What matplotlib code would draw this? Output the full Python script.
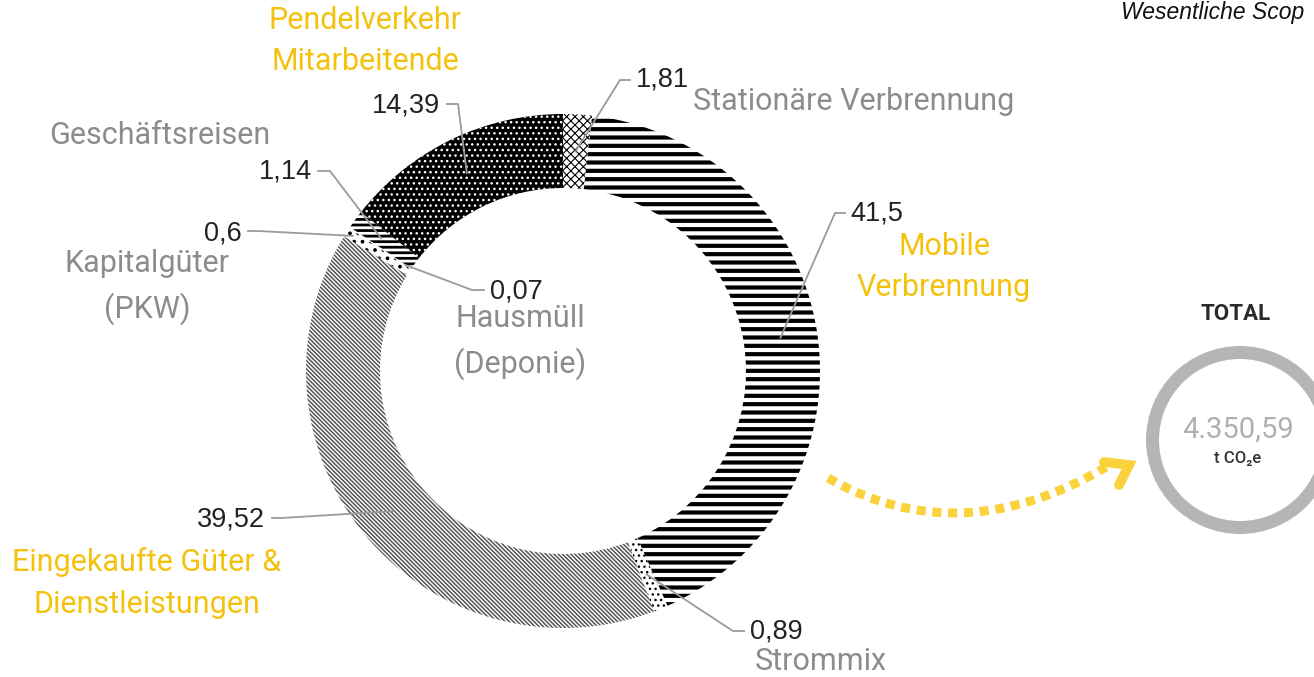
import numpy as np
import matplotlib.pyplot as plt

# data (clockwise from 12 o'clock)
values = [1.81, 41.5, 0.89, 39.52, 0.6, 0.07, 1.14, 14.39]
value_labels = ['1,81', '41,5', '0,89', '39,52', '0,6', '0,07', '1,14', '14,39']
categories = ['Stationäre Verbrennung', 'Mobile\nVerbrennung', 'Strommix',
              'Eingekaufte Güter &\nDienstleistungen', 'Kapitalgüter\n(PKW)',
              'Hausmüll\n(Deponie)', 'Geschäftsreisen', 'Pendelverkehr\nMitarbeitende']
highlight = [False, True, False, True, False, False, False, True]
total_value = '4.350,59'
total_unit = 't CO₂e'

# styles
faces = ['white', 'white', 'white', 'white', 'white', 'white', 'white', 'black']
hatches = ['xxxx', '--', '...', '\\' * 8, '..', '', '---', '...']
hatch_colors = ['black', 'black', 'black', '#555555', 'black', 'black', 'black', 'white']
hatch_lws = [0.8, 3.0, 1.0, 1.1, 1.5, 1.0, 2.0, 1.0]

yellow = '#F4C20D'
grey = '#8c8c8c'
line_grey = '#9a9a9a'

W, H = 1314, 677
def Y(y):
    return H - y

fig = plt.figure(figsize=(W / 100, H / 100), dpi=100)
ax = fig.add_axes([0, 0, 1, 1])

cx, cy, R = 563, Y(371), 257
wedges, _ = ax.pie(values, startangle=90, counterclock=False, radius=R, center=(cx, cy),
                   colors=faces, hatch=hatches, wedgeprops=dict(width=74, linewidth=0))
for w, ec, lw in zip(wedges, hatch_colors, hatch_lws):
    w.set_edgecolor(ec)
    if hasattr(w, 'set_hatch_linewidth'):
        w.set_hatch_linewidth(lw)

# mid angles of the wedges
vals = np.array(values)
frac = (np.cumsum(vals) - vals / 2) / vals.sum()
theta = np.deg2rad(90 - 360 * frac)

# number label position, alignment, elbow, leader end radius, category pos, alignment
num_pos = [(636, 80), (850, 213), (750, 632), (265, 519), (242, 233), (490, 292), (312, 172), (440, 106)]
num_ha = ['left', 'left', 'left', 'right', 'right', 'left', 'right', 'right']
elbow = [[(630, 80), (620, 80)], [(845, 213), (835, 213)], [(744, 631), (733, 631)],
         [(272, 518), (282, 518)], [(248, 231), (258, 231)], [(484, 290), (472, 290)],
         [(318, 171), (330, 171)], [(447, 104), (458, 104)]]
end_r = [220, 220, 220, 220, 250, 190, 225, 220]
cat_pos = [(693, 102), (857, 267), (755, 662), (147, 583), (147, 287), (520, 342), (160, 136), (365, 41)]
cat_ha = ['left', 'left', 'left', 'center', 'center', 'center', 'center', 'center']

for i in range(len(values)):
    ex = cx + end_r[i] * np.cos(theta[i])
    ey = cy + end_r[i] * np.sin(theta[i])
    xs = [p[0] for p in elbow[i]] + [ex]
    ys = [Y(p[1]) for p in elbow[i]] + [ey]
    ax.plot(xs, ys, color=line_grey, lw=1.3, zorder=5)
    ax.text(num_pos[i][0], Y(num_pos[i][1]), value_labels[i], ha=num_ha[i], va='center',
            fontsize=19.5, family='Liberation Sans', color='#222222')
    ax.text(cat_pos[i][0], Y(cat_pos[i][1]), categories[i], ha=cat_ha[i], va='center',
            multialignment='center', linespacing=1.55, fontsize=22, family='Roboto',
            color=yellow if highlight[i] else grey)

# dotted yellow arrow towards total
t = np.linspace(0, 1, 200)
p0, p1, p2 = np.array([828, Y(478)]), np.array([960, Y(553)]), np.array([1106, Y(467)])
curve = ((1 - t) ** 2)[:, None] * p0 + (2 * t * (1 - t))[:, None] * p1 + (t ** 2)[:, None] * p2
ax.plot(curve[:, 0], curve[:, 1], color='#F9D23C', lw=6.5, dashes=(1, 0.75), solid_capstyle='butt')
ax.plot([1104, 1129, 1119], [Y(462), Y(465), Y(485)], color='#F9D23C', lw=7,
        solid_joinstyle='miter', solid_capstyle='round')

# total ring
ax.pie([1], radius=94, center=(1240, Y(440)), colors=['#b5b5b5'],
       wedgeprops=dict(width=13, linewidth=0))
ax.text(1236, Y(314), 'TOTAL', ha='center', va='center', fontsize=16, fontweight='bold',
        family='Roboto', color='#2b2b2b')
ax.text(1238, Y(430), total_value, ha='center', va='center', fontsize=21,
        family='Roboto', color='#b0b0b0')
ax.text(1238, Y(459), total_unit, ha='center', va='center', fontsize=12, fontweight='medium',
        family=['Roboto', 'DejaVu Sans'], color='#333333')

ax.text(1121, Y(19), 'Wesentliche Scop', ha='left', va='baseline', fontsize=16.5,
        style='italic', family='Liberation Sans', color='#111111')

ax.set_xlim(0, W)
ax.set_ylim(0, H)
ax.set_aspect('equal')
ax.axis('off')

fig.savefig('out.png', dpi=100)
